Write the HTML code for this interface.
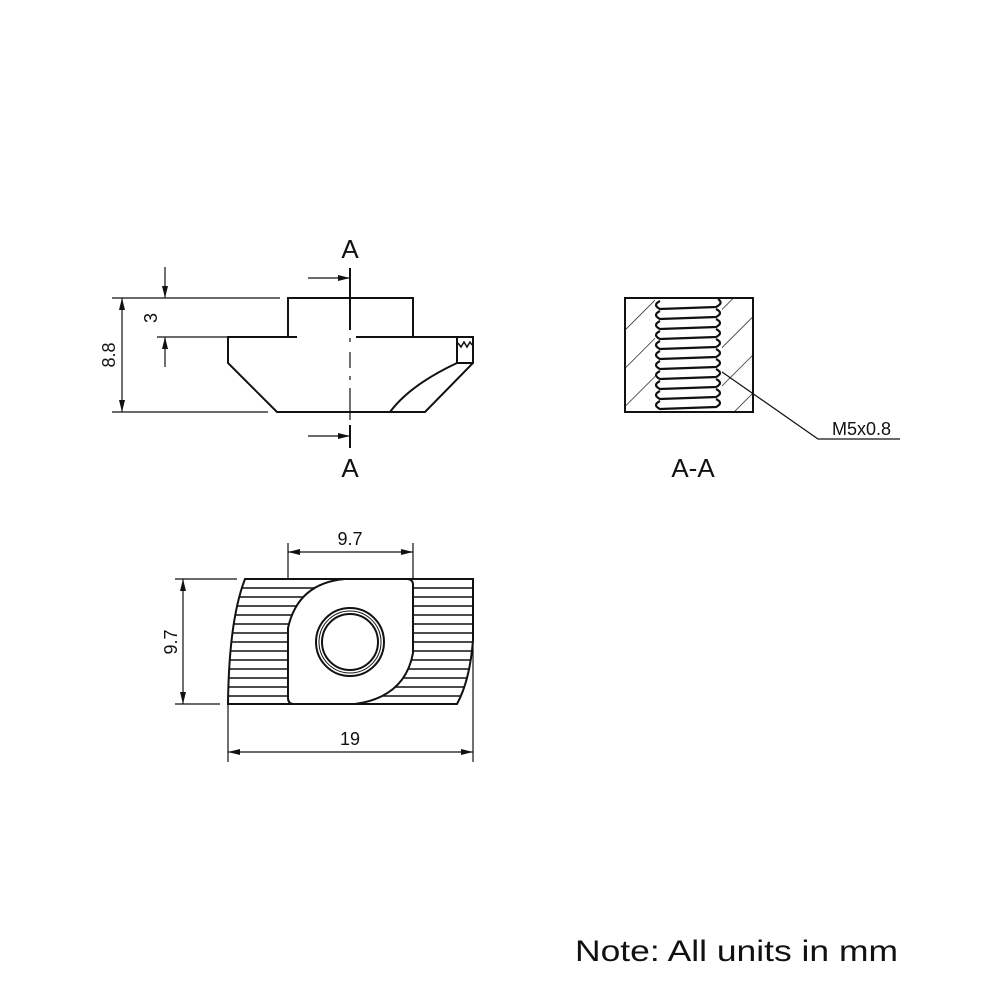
<!DOCTYPE html>
<html><head><meta charset="utf-8"><style>
html,body{margin:0;padding:0;background:#fff}
svg{display:block}
text{font-family:"Liberation Sans",sans-serif;fill:#111}
</style></head><body>
<svg width="1000" height="1000" viewBox="0 0 1000 1000" xmlns="http://www.w3.org/2000/svg">
<defs>
<marker id="ar" viewBox="0 0 12 6" refX="12" refY="3" markerWidth="12" markerHeight="6" orient="auto-start-reverse" markerUnits="userSpaceOnUse"><path d="M0,0 L12,3 L0,6 Z" fill="#111"/></marker>
<pattern id="hatch" patternUnits="userSpaceOnUse" width="27" height="27" patternTransform="rotate(45)"><line x1="0" y1="0" x2="0" y2="27" stroke="#111" stroke-width="1.4"/></pattern>
<clipPath id="secL"><rect x="625" y="298" width="30" height="114"/></clipPath>
<clipPath id="secR"><rect x="722" y="298" width="31" height="114"/></clipPath>
<clipPath id="nut"><path d="M245,579 L473,579 L473,640 Q470,680 457,704 L228,704 Q229,620 245,579 Z"/></clipPath>
</defs>

<g fill="none" stroke="#111" stroke-width="2">
<path d="M288,337 L288,298 L413,298 L413,337"/>
<path d="M297,337 L228,337 L228,363 L277,412 L425,412 L473,363 L473,337 L393,337"/>
<path d="M356,337 L413,337"/>
<path d="M457,337 L457,363 L473,363"/>
<path d="M457,363 Q410,385 390,412"/>
<path d="M458,343 L461,347 L464,342 L467,347 L470,342 L472,345" stroke-width="1.5"/>
</g>
<g stroke="#111" stroke-width="1.2" fill="none">
<line x1="350" y1="268" x2="350" y2="330" stroke-width="2"/>
<line x1="350" y1="338" x2="350" y2="342"/>
<line x1="350" y1="352" x2="350" y2="368"/>
<line x1="350" y1="376" x2="350" y2="380"/>
<line x1="350" y1="388" x2="350" y2="420"/>
<line x1="350" y1="425" x2="350" y2="448" stroke-width="2"/>
<line x1="308" y1="278" x2="350" y2="278" marker-end="url(#ar)"/>
<line x1="308" y1="436" x2="350" y2="436" marker-end="url(#ar)"/>
<line x1="112" y1="298" x2="280" y2="298"/>
<line x1="112" y1="412" x2="268" y2="412"/>
<line x1="122" y1="298" x2="122" y2="412" marker-start="url(#ar)" marker-end="url(#ar)"/>
<line x1="157" y1="337" x2="297" y2="337"/>
<line x1="165" y1="267" x2="165" y2="298" marker-end="url(#ar)"/>
<line x1="165" y1="367" x2="165" y2="337" marker-end="url(#ar)"/>
</g>
<text x="350" y="258" font-size="26" text-anchor="middle">A</text>
<text x="350" y="477" font-size="26" text-anchor="middle">A</text>
<text x="0" y="0" font-size="18" text-anchor="middle" transform="translate(115,355) rotate(-90)">8.8</text>
<text x="0" y="0" font-size="18" text-anchor="middle" transform="translate(157,318) rotate(-90)">3</text>

<g clip-path="url(#nut)" stroke="#111" stroke-width="1.5">
<line x1="220" y1="588" x2="480" y2="588"/><line x1="220" y1="597" x2="480" y2="597"/>
<line x1="220" y1="606" x2="480" y2="606"/><line x1="220" y1="615" x2="480" y2="615"/>
<line x1="220" y1="624" x2="480" y2="624"/><line x1="220" y1="633" x2="480" y2="633"/>
<line x1="220" y1="642" x2="480" y2="642"/><line x1="220" y1="651" x2="480" y2="651"/>
<line x1="220" y1="660" x2="480" y2="660"/><line x1="220" y1="669" x2="480" y2="669"/>
<line x1="220" y1="678" x2="480" y2="678"/><line x1="220" y1="687" x2="480" y2="687"/>
<line x1="220" y1="696" x2="480" y2="696"/>
</g>
<path d="M245,579 L473,579 L473,640 Q470,680 457,704 L228,704 Q229,620 245,579 Z" fill="none" stroke="#111" stroke-width="2"/>
<path d="M294,704 Q288,704 288,698 L288,628 Q298,583 345,579 L407,579 Q413,579 413,585 L413,653 Q405,697 355,704 Z" fill="#fff" stroke="#111" stroke-width="2"/>
<circle cx="350" cy="642" r="34" fill="none" stroke="#111" stroke-width="2"/>
<circle cx="350" cy="642" r="31" fill="none" stroke="#111" stroke-width="1"/>
<circle cx="350" cy="642" r="28" fill="none" stroke="#111" stroke-width="2"/>
<g stroke="#111" stroke-width="1.2" fill="none">
<line x1="288" y1="543" x2="288" y2="579"/>
<line x1="413" y1="543" x2="413" y2="579"/>
<line x1="288" y1="552" x2="413" y2="552" marker-start="url(#ar)" marker-end="url(#ar)"/>
<line x1="175" y1="579" x2="237" y2="579"/>
<line x1="175" y1="704" x2="220" y2="704"/>
<line x1="183" y1="579" x2="183" y2="704" marker-start="url(#ar)" marker-end="url(#ar)"/>
<line x1="228" y1="704" x2="228" y2="762"/>
<line x1="473" y1="579" x2="473" y2="762"/>
<line x1="228" y1="752" x2="473" y2="752" marker-start="url(#ar)" marker-end="url(#ar)"/>
</g>
<text x="350" y="545" font-size="18" text-anchor="middle">9.7</text>
<text x="350" y="745" font-size="18" text-anchor="middle">19</text>
<text x="0" y="0" font-size="18" text-anchor="middle" transform="translate(177,642) rotate(-90)">9.7</text>

<rect x="625" y="298" width="30" height="114" fill="url(#hatch)" clip-path="url(#secL)"/>
<rect x="722" y="298" width="31" height="114" fill="url(#hatch)" clip-path="url(#secR)"/>
<rect x="625" y="298" width="128" height="114" fill="none" stroke="#111" stroke-width="2"/>
<g fill="none" stroke="#111" stroke-width="2.2">
<path d="M660,301 Q652,305 660,309 L716,307 Q724,303 718,299"/>
<path d="M660,311 Q652,315 660,319 L716,317 Q724,313 716,309"/>
<path d="M660,321 Q652,325 660,329 L716,327 Q724,323 716,319"/>
<path d="M660,331 Q652,335 660,339 L716,337 Q724,333 716,329"/>
<path d="M660,341 Q652,345 660,349 L716,347 Q724,343 716,339"/>
<path d="M660,351 Q652,355 660,359 L716,357 Q724,353 716,349"/>
<path d="M660,361 Q652,365 660,369 L716,367 Q724,363 716,359"/>
<path d="M660,371 Q652,375 660,379 L716,377 Q724,373 716,369"/>
<path d="M660,381 Q652,385 660,389 L716,387 Q724,383 716,379"/>
<path d="M660,391 Q652,395 660,399 L716,397 Q724,393 716,389"/>
<path d="M660,401 Q652,405 660,409 L716,407 Q724,403 716,399"/>
</g>
<polyline points="722,372 818,439 900,439" fill="none" stroke="#111" stroke-width="1.2"/>
<text x="832" y="435" font-size="18">M5x0.8</text>
<text x="693" y="477" font-size="26" text-anchor="middle">A-A</text>

<text x="575" y="961" font-size="30" textLength="323" lengthAdjust="spacingAndGlyphs">Note: All units in mm</text>
</svg>
</body></html>
